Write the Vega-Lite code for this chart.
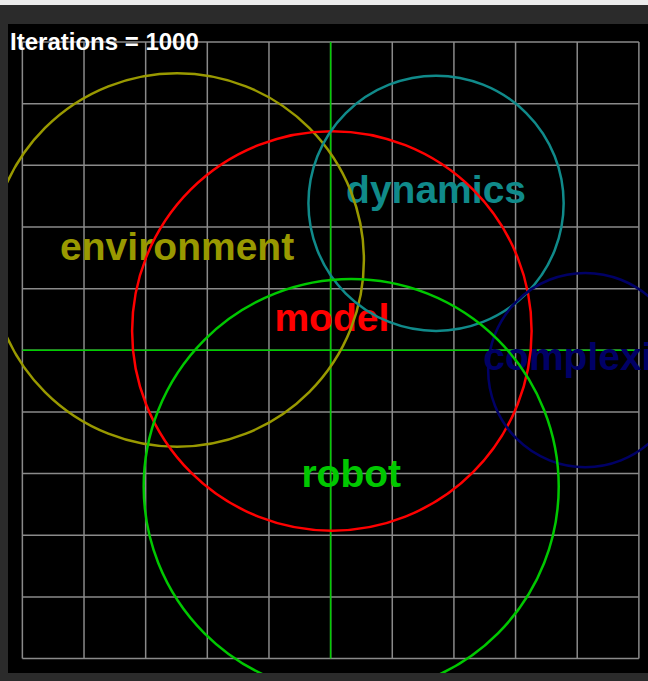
{
  "$schema": "https://vega.github.io/schema/vega-lite/v6.json",
  "autosize": {"type": "none"},
  "padding": {"left": 8, "top": 24, "right": 0, "bottom": 8},
  "width": 640,
  "height": 649,
  "background": "#2b2b2b",
  "config": {"view": {"stroke": null, "fill": "#000000"}},
  "datasets": {
    "grid": [{"g": -5}, {"g": -4}, {"g": -3}, {"g": -2}, {"g": -1}, {"g": 0}, {"g": 1}, {"g": 2}, {"g": 3}, {"g": 4}, {"g": 5}],
    "circles": [
      {"term": "environment", "cx": -2.49, "cy": 1.465, "r": 3.03},
      {"term": "model", "cx": 0.02, "cy": 0.315, "r": 3.24},
      {"term": "dynamics", "cx": 1.71, "cy": 2.385, "r": 2.07},
      {"term": "complexity", "cx": 4.13, "cy": -0.32, "r": 1.575},
      {"term": "robot", "cx": 0.334, "cy": -2.21, "r": 3.366}
    ],
    "note": [{"text": "Iterations = 1000", "x": -5.2, "y": 4.871}]
  },
  "layer": [
    {
      "data": {"name": "grid"},
      "mark": {"type": "rule", "color": "#8a8a8a", "strokeWidth": 1.5},
      "encoding": {
        "x": {"field": "g", "type": "quantitative", "scale": {"domain": [-5.233, 5.148], "nice": false, "zero": false}, "axis": null},
        "y": {"datum": -5, "type": "quantitative", "scale": {"domain": [-5.234, 5.293], "nice": false, "zero": false}, "axis": null},
        "y2": {"datum": 5}
      }
    },
    {
      "data": {"name": "grid"},
      "mark": {"type": "rule", "color": "#8a8a8a", "strokeWidth": 1.5},
      "encoding": {
        "y": {"field": "g", "type": "quantitative", "scale": {"domain": [-5.234, 5.293], "nice": false, "zero": false}, "axis": null},
        "x": {"datum": -5, "type": "quantitative", "scale": {"domain": [-5.233, 5.148], "nice": false, "zero": false}, "axis": null},
        "x2": {"datum": 5}
      }
    },
    {
      "data": {"values": [{"a": 0}]},
      "mark": {"type": "rule", "color": "#00cc00", "strokeWidth": 1.5},
      "encoding": {
        "x": {"field": "a", "type": "quantitative", "scale": {"domain": [-5.233, 5.148], "nice": false, "zero": false}, "axis": null},
        "y": {"datum": -5, "type": "quantitative", "scale": {"domain": [-5.234, 5.293], "nice": false, "zero": false}, "axis": null},
        "y2": {"datum": 5}
      }
    },
    {
      "data": {"values": [{"a": 0}]},
      "mark": {"type": "rule", "color": "#00cc00", "strokeWidth": 1.5},
      "encoding": {
        "y": {"field": "a", "type": "quantitative", "scale": {"domain": [-5.234, 5.293], "nice": false, "zero": false}, "axis": null},
        "x": {"datum": -5, "type": "quantitative", "scale": {"domain": [-5.233, 5.148], "nice": false, "zero": false}, "axis": null},
        "x2": {"datum": 5}
      }
    },
    {
      "data": {"name": "circles"},
      "mark": {"type": "text", "font": "Liberation Sans", "fontWeight": "bold", "fontSize": 39, "align": "center", "baseline": "alphabetic", "clip": true},
      "encoding": {
        "x": {"field": "cx", "type": "quantitative", "scale": {"domain": [-5.233, 5.148], "nice": false, "zero": false}, "axis": null},
        "y": {"field": "cy", "type": "quantitative", "scale": {"domain": [-5.234, 5.293], "nice": false, "zero": false}, "axis": null},
        "text": {"field": "term"},
        "color": {"field": "term", "type": "nominal", "legend": null, "scale": {"domain": ["environment", "model", "dynamics", "complexity", "robot"], "range": ["#999900", "#ff0000", "#108a8a", "#000066", "#00c800"]}}
      }
    },
    {
      "data": {"name": "circles"},
      "mark": {"type": "point", "shape": "circle", "filled": false, "strokeWidth": 2.5, "opacity": 1, "clip": true},
      "encoding": {
        "x": {"field": "cx", "type": "quantitative", "scale": {"domain": [-5.233, 5.148], "nice": false, "zero": false}, "axis": null},
        "y": {"field": "cy", "type": "quantitative", "scale": {"domain": [-5.234, 5.293], "nice": false, "zero": false}, "axis": null},
        "size": {"field": "r", "type": "quantitative", "legend": null, "scale": {"type": "pow", "exponent": 2, "domain": [0, 4], "range": [0, 243248], "nice": false, "zero": true}},
        "color": {"field": "term", "type": "nominal", "legend": null, "scale": {"domain": ["environment", "model", "dynamics", "complexity", "robot"], "range": ["#999900", "#ff0000", "#108a8a", "#000066", "#00c800"]}}
      }
    },
    {
      "data": {"name": "note"},
      "mark": {"type": "text", "font": "Liberation Sans", "fontWeight": "bold", "fontSize": 24, "align": "left", "baseline": "alphabetic", "color": "#ffffff"},
      "encoding": {
        "x": {"field": "x", "type": "quantitative", "scale": {"domain": [-5.233, 5.148], "nice": false, "zero": false}, "axis": null},
        "y": {"field": "y", "type": "quantitative", "scale": {"domain": [-5.234, 5.293], "nice": false, "zero": false}, "axis": null},
        "text": {"field": "text"}
      }
    },
    {
      "data": {"values": [{"a": 5.641}]},
      "mark": {"type": "rule", "color": "#ececec", "strokeWidth": 5},
      "encoding": {
        "y": {"field": "a", "type": "quantitative", "scale": {"domain": [-5.234, 5.293], "nice": false, "zero": false}, "axis": null},
        "x": {"datum": -5.6, "type": "quantitative", "scale": {"domain": [-5.233, 5.148], "nice": false, "zero": false}, "axis": null},
        "x2": {"datum": 5.6}
      }
    }
  ]
}
